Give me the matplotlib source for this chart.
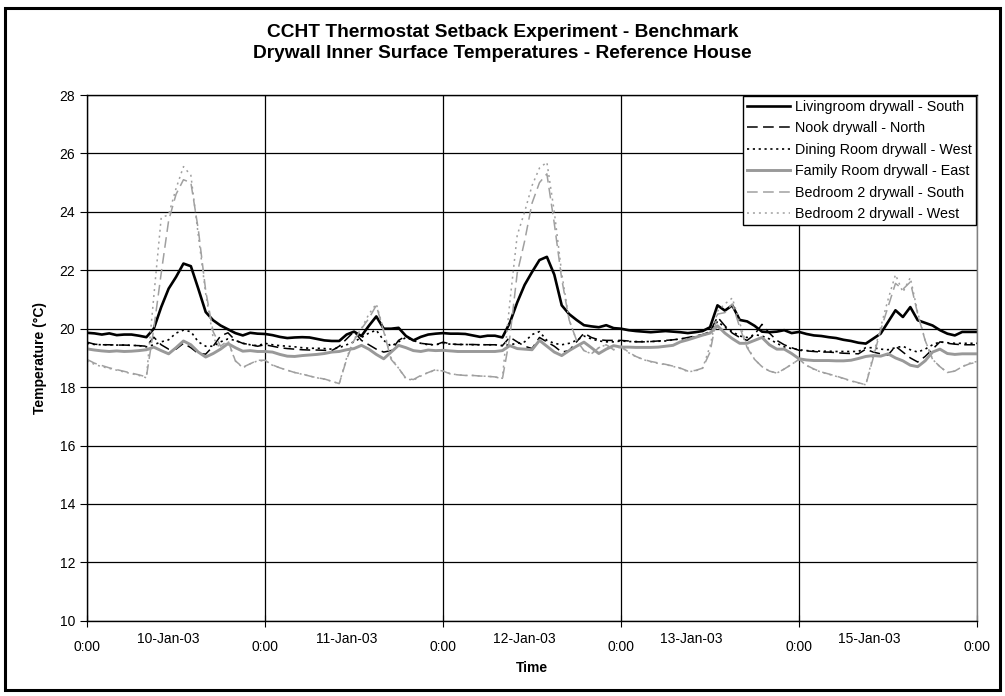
import numpy as np
import matplotlib
matplotlib.use("Agg")
import matplotlib.pyplot as plt
from matplotlib.patches import Rectangle

plt.rcParams['font.family'] = ['Liberation Sans', 'DejaVu Sans']

# hourly readings, 10-Jan 0:00 .. end of 15-Jan (5 days + final point)
living_south = [
    19.86, 19.84, 19.80, 19.84, 19.78, 19.80, 19.80, 19.76, 19.71, 20.00, 20.74, 21.37,
    21.77, 22.23, 22.14, 21.37, 20.57, 20.29, 20.11, 19.98, 19.85, 19.77, 19.86, 19.83,
    19.82, 19.78, 19.72, 19.68, 19.70, 19.71, 19.70, 19.65, 19.60, 19.58, 19.58, 19.80,
    19.90, 19.75, 20.10, 20.42, 20.00, 20.00, 20.03, 19.75, 19.60, 19.72, 19.80, 19.83,
    19.85, 19.83, 19.83, 19.82, 19.77, 19.72, 19.76, 19.76, 19.70, 20.20, 20.90, 21.50,
    21.94, 22.35, 22.46, 21.85, 20.80, 20.50, 20.30, 20.12, 20.08, 20.05, 20.12, 20.02,
    20.00, 19.95, 19.92, 19.90, 19.88, 19.90, 19.92, 19.90, 19.88, 19.85, 19.88, 19.92,
    20.05, 20.80, 20.62, 20.80, 20.30, 20.25, 20.10, 19.90, 19.88, 19.90, 19.95, 19.85,
    19.89, 19.82, 19.77, 19.75, 19.71, 19.68, 19.62, 19.58, 19.52, 19.49, 19.66, 19.83,
    20.23, 20.63, 20.40, 20.74, 20.29, 20.20, 20.11, 19.95, 19.83, 19.77, 19.89, 19.89,
    19.89,
]
nook_north = [
    19.54, 19.47, 19.45, 19.45, 19.44, 19.44, 19.43, 19.42, 19.40, 19.71, 19.45, 19.30,
    19.30, 19.50, 19.35, 19.15, 19.13, 19.40, 19.75, 19.86, 19.60, 19.50, 19.45, 19.40,
    19.45, 19.40, 19.35, 19.32, 19.30, 19.28, 19.27, 19.27, 19.26, 19.25, 19.40, 19.65,
    19.90, 19.60, 19.45, 19.30, 19.20, 19.25, 19.60, 19.75, 19.60, 19.50, 19.47, 19.45,
    19.54, 19.48, 19.46, 19.46, 19.46, 19.45, 19.45, 19.45, 19.42, 19.71, 19.55, 19.40,
    19.32, 19.70, 19.55, 19.40, 19.20, 19.25, 19.55, 19.85, 19.70, 19.62, 19.60, 19.60,
    19.60, 19.58, 19.55, 19.55, 19.56, 19.58, 19.60, 19.62, 19.65, 19.70, 19.75, 19.80,
    19.90, 20.40, 20.10, 19.85, 19.70, 19.60, 19.80, 20.15, 19.85, 19.60, 19.45, 19.35,
    19.26, 19.24, 19.22, 19.20, 19.20, 19.18, 19.16, 19.15, 19.14, 19.30, 19.20, 19.14,
    19.10, 19.40, 19.20, 19.00, 18.86, 19.05, 19.30, 19.55, 19.50, 19.47, 19.45, 19.45,
    19.45,
]
dining_west = [
    19.50, 19.46, 19.45, 19.45, 19.44, 19.44, 19.43, 19.42, 19.38, 19.45, 19.55, 19.62,
    19.85, 19.95, 19.90, 19.55, 19.40, 19.40, 19.55, 19.65, 19.60, 19.50, 19.45, 19.42,
    19.50, 19.45, 19.42, 19.40, 19.38, 19.35, 19.33, 19.33, 19.32, 19.30, 19.35, 19.45,
    19.55, 19.70, 19.85, 19.95, 19.60, 19.40, 19.55, 19.70, 19.60, 19.50, 19.45, 19.45,
    19.50, 19.47, 19.46, 19.46, 19.45, 19.45, 19.45, 19.45, 19.42, 19.45, 19.50, 19.55,
    19.80, 19.90, 19.60, 19.50, 19.45, 19.50, 19.60, 19.75, 19.65, 19.58, 19.55, 19.55,
    19.58, 19.56, 19.56, 19.56, 19.56, 19.57, 19.58, 19.62, 19.65, 19.68, 19.72, 19.78,
    19.85, 20.25, 20.05, 19.90, 19.75, 19.70, 19.80, 19.75, 19.65, 19.50, 19.38, 19.32,
    19.28, 19.25, 19.24, 19.23, 19.23, 19.22, 19.22, 19.22, 19.22, 19.35, 19.35, 19.30,
    19.28, 19.35, 19.40, 19.28, 19.20, 19.30, 19.45, 19.55, 19.52, 19.50, 19.50, 19.50,
    19.50,
]
family_east = [
    19.31, 19.27, 19.24, 19.22, 19.24, 19.22, 19.23, 19.25, 19.28, 19.37, 19.25, 19.14,
    19.35, 19.58, 19.45, 19.20, 19.03, 19.15, 19.30, 19.49, 19.35, 19.23, 19.25, 19.22,
    19.22, 19.20, 19.12, 19.06, 19.05, 19.08, 19.10, 19.12, 19.15, 19.20, 19.22, 19.28,
    19.32, 19.43, 19.30, 19.12, 18.97, 19.20, 19.43, 19.35, 19.25, 19.22, 19.27, 19.25,
    19.26, 19.24, 19.22, 19.22, 19.22, 19.22, 19.22, 19.22, 19.25, 19.42, 19.32, 19.30,
    19.28, 19.60, 19.40, 19.20, 19.08, 19.25, 19.40, 19.54, 19.35, 19.15, 19.30, 19.42,
    19.37, 19.37, 19.36, 19.36, 19.36, 19.37, 19.40, 19.43, 19.55, 19.62, 19.70, 19.78,
    19.85, 20.10, 19.85, 19.66, 19.50, 19.50, 19.60, 19.70, 19.45, 19.30, 19.30, 19.15,
    18.97, 18.93, 18.91, 18.91, 18.91, 18.90, 18.90, 18.92, 18.98, 19.05, 19.08, 19.06,
    19.14, 19.00, 18.90, 18.75, 18.70, 18.90, 19.20, 19.30, 19.15, 19.12, 19.14, 19.14,
    19.14,
]
bed2_south = [
    18.95, 18.82, 18.74, 18.66, 18.60, 18.54, 18.48, 18.42, 18.35, 20.00, 21.90, 23.70,
    24.60, 25.10, 25.00, 23.40, 21.30, 19.90, 19.40, 19.60, 18.90, 18.68, 18.80, 18.92,
    18.92, 18.76, 18.66, 18.58, 18.50, 18.45, 18.38, 18.32, 18.28, 18.20, 18.12, 18.95,
    19.60, 20.00, 20.35, 20.80, 19.90, 18.95, 18.65, 18.30, 18.26, 18.40, 18.50, 18.60,
    18.55, 18.45, 18.42, 18.40, 18.40, 18.38, 18.37, 18.35, 18.28, 19.70, 21.90, 23.00,
    24.30, 25.00, 25.30, 23.60, 21.70, 20.30, 19.60, 19.25, 19.14, 19.35, 19.45, 19.28,
    19.40, 19.20, 19.05, 18.95, 18.88, 18.83, 18.78, 18.72, 18.65, 18.55, 18.57, 18.65,
    19.20, 20.50, 20.55, 20.85, 20.05, 19.35, 18.95, 18.70, 18.55, 18.48, 18.62, 18.78,
    18.95, 18.75, 18.62, 18.52, 18.45, 18.38, 18.30, 18.22, 18.15, 18.08, 19.00, 19.95,
    20.75, 21.55, 21.35, 21.60, 20.50, 19.60, 18.95, 18.70, 18.50, 18.55, 18.70, 18.80,
    18.85,
]
bed2_west = [
    18.90, 18.78, 18.70, 18.64, 18.58, 18.52, 18.46, 18.40, 18.32, 21.10, 23.80, 23.90,
    24.80, 25.55, 25.25, 23.20, 21.20, 19.70, 19.30, 19.55, 18.90, 18.66, 18.80, 18.90,
    18.90, 18.75, 18.66, 18.58, 18.50, 18.44, 18.38, 18.32, 18.27, 18.20, 18.12, 19.00,
    19.65, 20.00, 20.50, 20.85, 19.95, 19.00, 18.65, 18.28, 18.24, 18.38, 18.50, 18.58,
    18.55, 18.46, 18.42, 18.40, 18.40, 18.38, 18.37, 18.35, 18.30, 20.90, 23.20, 24.00,
    24.90, 25.50, 25.70, 24.00, 21.90, 20.30, 19.60, 19.25, 19.14, 19.35, 19.45, 19.28,
    19.38, 19.18, 19.04, 18.94, 18.87, 18.81, 18.77, 18.71, 18.64, 18.53, 18.55, 18.65,
    19.40, 20.60, 20.85, 21.05, 20.20, 19.40, 18.95, 18.70, 18.55, 18.48, 18.62, 18.78,
    18.95, 18.74, 18.61, 18.51, 18.44, 18.37, 18.29, 18.21, 18.14, 18.08, 19.10, 20.05,
    21.00, 21.85, 21.25, 21.75, 20.55, 19.60, 18.95, 18.70, 18.50, 18.55, 18.70, 18.82,
    18.88,
]

series_names = [
    "Livingroom drywall - South",
    "Nook drywall - North",
    "Dining Room drywall - West",
    "Family Room drywall - East",
    "Bedroom 2 drywall - South",
    "Bedroom 2 drywall - West",
]
midnight_labels = ["0:00", "0:00", "0:00", "0:00", "0:00", "0:00"]
date_labels = ["10-Jan-03", "11-Jan-03", "12-Jan-03", "13-Jan-03", "15-Jan-03"]

hours = np.arange(len(living_south))

fig = plt.figure(figsize=(10.05, 6.96), dpi=100)
ax = fig.add_axes([0.0866, 0.108, 0.8856, 0.7555])

grey = "#999999"
styles = [
    dict(color="black", lw=1.9, ls="-"),
    dict(color="black", lw=1.1, dashes=(7, 3.5)),
    dict(color="black", lw=1.2, dashes=(1.3, 2.2)),
    dict(color=grey, lw=2.1, ls="-"),
    dict(color="#a0a0a0", lw=1.1, dashes=(7, 3.5)),
    dict(color="#a0a0a0", lw=1.1, dashes=(1.3, 2.6)),
]
data = [living_south, nook_north, dining_west, family_east, bed2_south, bed2_west]
for vals, name, st in zip(data, series_names, styles):
    ax.plot(hours, vals, label=name, **st)

ax.set_xlim(0, 120)
ax.set_ylim(10, 28)
ax.set_yticks(np.arange(10, 29, 2))
ax.grid(True, axis="both", which="major", color="black", lw=0.9)

ax.set_xticks(np.arange(0, 121, 24))
ax.set_xticklabels(midnight_labels)
ax.set_xticks([11, 35, 59, 81.5, 105.5], minor=True)
ax.set_xticklabels(date_labels, minor=True)
ax.tick_params(axis="x", which="major", direction="inout", length=8, pad=10, labelsize=10)
ax.tick_params(axis="x", which="minor", length=0, pad=8, labelsize=10)
ax.tick_params(axis="y", direction="out", length=5, labelsize=10)

for s in ["left", "bottom", "top"]:
    ax.spines[s].set_color("black")
    ax.spines[s].set_linewidth(1.0)
ax.spines["right"].set_color("#808080")
ax.spines["right"].set_linewidth(1.0)

ax.set_xlabel("Time", fontsize=10, fontweight="bold", labelpad=5)
ax.set_ylabel("Temperature (°C)", fontsize=10, fontweight="bold", labelpad=9)

fig.text(0.5, 0.9526, "CCHT Thermostat Setback Experiment - Benchmark",
         ha="center", va="center", fontsize=13.8, fontweight="bold")
fig.text(0.5, 0.9235, "Drywall Inner Surface Temperatures - Reference House",
         ha="center", va="center", fontsize=13.8, fontweight="bold")

leg = ax.legend(loc="upper right", bbox_to_anchor=(1.0, 1.0), fontsize=10.3,
                frameon=True, fancybox=False, edgecolor="black", framealpha=1,
                handlelength=3.0, handletextpad=0.35, labelspacing=0.52,
                borderpad=0.3, borderaxespad=0.05)
leg.get_frame().set_linewidth(1.0)

fig.patches.append(Rectangle((0.005, 0.008), 0.99, 0.98, transform=fig.transFigure,
                             fill=False, edgecolor="black", lw=2.2))

fig.savefig("out.png", dpi=100)
